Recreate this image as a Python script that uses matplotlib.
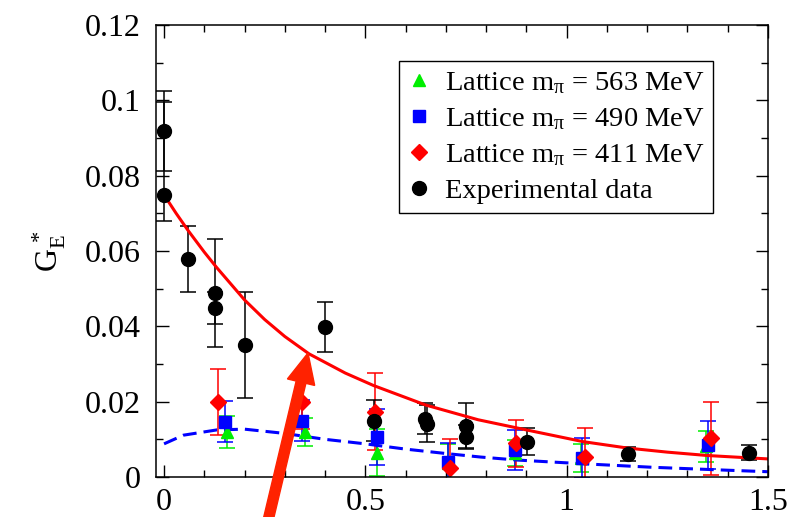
import numpy as np
import matplotlib.pyplot as plt
from matplotlib.lines import Line2D
from matplotlib.patches import FancyArrow
from matplotlib.ticker import MultipleLocator, FixedLocator, FixedFormatter

plt.rcParams['font.family'] = 'Liberation Serif'
plt.rcParams['mathtext.fontset'] = 'custom'
plt.rcParams['mathtext.rm'] = 'Liberation Serif'
plt.rcParams['mathtext.it'] = 'Liberation Serif'
plt.rcParams['mathtext.default'] = 'rm'

# experimental data (black circles), asymmetric errors
exp_x = [0.0, 0.0, 0.059, 0.127, 0.127, 0.200, 0.400, 0.521, 0.649, 0.652, 0.749, 0.749, 0.902, 1.153, 1.452]
exp_y = [0.0918, 0.0749, 0.0578, 0.0489, 0.0448, 0.0350, 0.0399, 0.0150, 0.0155, 0.0142, 0.0135, 0.0107, 0.0094, 0.0061, 0.0065]
exp_lo = [0.0106, 0.0069, 0.0088, 0.0143, 0.0043, 0.0141, 0.0066, 0.0054, 0.0042, 0.0050, 0.0061, 0.0030, 0.0036, 0.0018, 0.0021]
exp_hi = [0.0107, 0.0247, 0.0088, 0.0143, 0.0043, 0.0141, 0.0066, 0.0054, 0.0042, 0.0050, 0.0061, 0.0030, 0.0036, 0.0018, 0.0021]

# lattice m_pi = 563 MeV (green triangles)
l563_x = [0.156, 0.349, 0.529, 0.705, 0.871, 1.035, 1.346]
l563_y = [0.0120, 0.0120, 0.0065, 0.0037, 0.0063, 0.0050, 0.0081]
l563_e = [0.0042, 0.0037, 0.0062, 0.0050, 0.0034, 0.0038, 0.0042]

# lattice m_pi = 490 MeV (blue squares)
l490_x = [0.152, 0.342, 0.529, 0.705, 0.871, 1.039, 1.350]
l490_y = [0.0147, 0.0150, 0.0107, 0.0041, 0.0072, 0.0050, 0.0085]
l490_e = [0.0055, 0.0055, 0.0074, 0.0050, 0.0053, 0.0053, 0.0065]

# lattice m_pi = 411 MeV (red diamonds)
l411_x = [0.135, 0.342, 0.525, 0.710, 0.873, 1.046, 1.358]
l411_y = [0.0200, 0.0200, 0.0173, 0.0023, 0.0089, 0.0054, 0.0103]
l411_e = [0.0088, 0.0073, 0.0102, 0.0077, 0.0063, 0.0075, 0.0097]

# curves
red_x = [0.0, 0.03, 0.06, 0.1, 0.13, 0.2, 0.25, 0.3, 0.36, 0.45, 0.52, 0.65, 0.78, 0.9, 1.04, 1.15, 1.25, 1.35, 1.5]
red_y = [0.0749, 0.0700, 0.0654, 0.0597, 0.0557, 0.0470, 0.0418, 0.0373, 0.0327, 0.0276, 0.0243, 0.0191, 0.0152, 0.0125, 0.0094, 0.0077, 0.0066, 0.0057, 0.0048]
blue_x = [0.0, 0.048, 0.131, 0.2, 0.297, 0.4, 0.5, 0.6, 0.703, 0.786, 0.877, 1.043, 1.209, 1.375, 1.5]
blue_y = [0.0088, 0.0111, 0.0125, 0.0127, 0.0116, 0.0100, 0.0088, 0.0074, 0.0062, 0.0053, 0.0045, 0.0035, 0.0026, 0.0019, 0.0014]

xticks = [0, 0.5, 1, 1.5]
xticklabels = ['0', '0.5', '1', '1.5']
yticks = [0, 0.02, 0.04, 0.06, 0.08, 0.1, 0.12]
yticklabels = ['0', '0.02', '0.04', '0.06', '0.08', '0.1', '0.12']

fig = plt.figure(figsize=(7.94, 5.17), dpi=100)
ax = fig.add_axes([156/794, 1-477/517, 612/794, 452/517])

eb = dict(linestyle='none', elinewidth=1.1, capsize=6, capthick=1.1)
ax.errorbar(l563_x, l563_y, yerr=l563_e, marker='^', ms=8, color='#00ee00', **eb)
ax.errorbar(l490_x, l490_y, yerr=l490_e, marker='s', ms=8, color='#0000ff', **eb)
ax.errorbar(l411_x, l411_y, yerr=l411_e, marker='D', ms=8, color='#ff0000', **eb)
ax.errorbar(exp_x, exp_y, yerr=[exp_lo, exp_hi], marker='o', ms=10, color='black', **eb)

ax.plot(red_x, red_y, color='#ff0000', lw=2.2)
ax.plot(blue_x, blue_y, color='#0000ff', lw=2.2, dashes=(4.5, 2.3))

ax.set_xlim(-0.02, 1.5)
ax.set_ylim(0, 0.12)
ax.xaxis.set_major_locator(FixedLocator(xticks))
ax.xaxis.set_major_formatter(FixedFormatter(xticklabels))
ax.yaxis.set_major_locator(FixedLocator(yticks))
ax.yaxis.set_major_formatter(FixedFormatter(yticklabels))
ax.xaxis.set_minor_locator(MultipleLocator(0.1))
ax.yaxis.set_minor_locator(MultipleLocator(0.01))
ax.tick_params(which='both', direction='in', top=True, right=True, width=1.0)
ax.tick_params(which='major', length=9, labelsize=23)
ax.tick_params(which='minor', length=5)
ax.tick_params(axis='y', pad=11)
ax.tick_params(axis='x', pad=8)
for s in ax.spines.values():
    s.set_linewidth(1.1)

ax.set_ylabel(r'$\mathrm{G}_{\mathrm{E}}^{\,*}$', fontsize=23, labelpad=12)

handles = [
    Line2D([], [], ls='none', marker='^', ms=8, color='#00ee00'),
    Line2D([], [], ls='none', marker='s', ms=8, color='#0000ff'),
    Line2D([], [], ls='none', marker='D', ms=8, color='#ff0000'),
    Line2D([], [], ls='none', marker='o', ms=10, color='black'),
]
labels = [r'Lattice m$_{\pi}$ = 563 MeV', r'Lattice m$_{\pi}$ = 490 MeV',
          r'Lattice m$_{\pi}$ = 411 MeV', 'Experimental data']
leg = ax.legend(handles, labels, loc='upper right', bbox_to_anchor=(0.910, 0.920),
                borderaxespad=0, fontsize=20.5, fancybox=False, edgecolor='black',
                framealpha=1, handlelength=0.8, handletextpad=0.5,
                borderpad=0.3, labelspacing=0.36)
leg.get_frame().set_linewidth(1.0)

# red highlight arrow drawn over the figure (figure pixel coordinates)
fig.patches.append(FancyArrow(
    266.5, -10, 41.5, 174, width=10, head_width=28, head_length=30,
    length_includes_head=True, color='#ff2200', transform=None, figure=fig))

fig.savefig('out.png', dpi=100)
